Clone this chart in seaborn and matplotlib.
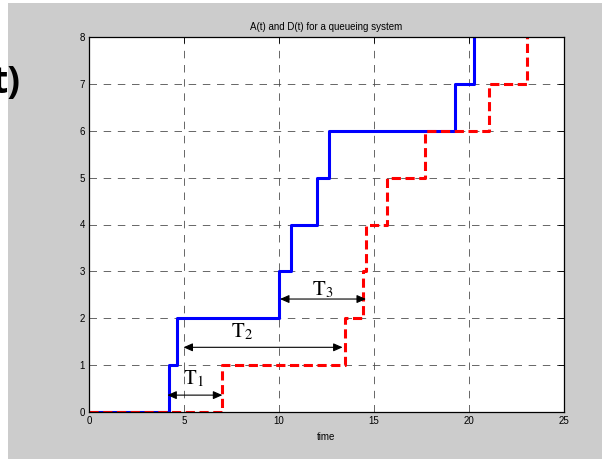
import numpy as np
import pandas as pd
import matplotlib
matplotlib.use("Agg")
import matplotlib.pyplot as plt
from matplotlib.patches import Rectangle
import seaborn as sns

# arrival / departure instants (step-ups of A(t) and D(t))
arrival_times = [0, 4.2, 4.65, 10.0, 10.65, 12.0, 12.65, 19.25, 20.25]
departure_times = [0, 7.0, 13.45, 14.42, 14.58, 15.7, 17.68, 21.07, 23.03]
counts = [0, 1, 2, 3, 4, 5, 6, 7, 8]

# sojourn-time arrows: (start, end, height, label, label x, label y)
t_starts = [4.12, 4.97, 10.05]
t_ends = [7.02, 13.35, 14.58]
t_heights = [0.36, 1.38, 2.41]
t_labels = [r"$\mathrm{T}_1$", r"$\mathrm{T}_2$", r"$\mathrm{T}_3$"]
t_label_x = [5.5, 8.05, 12.3]
t_label_y = [0.72, 1.72, 2.62]

x_ticks = [0, 5, 10, 15, 20, 25]
y_ticks = [0, 1, 2, 3, 4, 5, 6, 7, 8]

sns.set_style("white")
plt.rcParams["font.family"] = ["Liberation Sans", "DejaVu Sans"]
plt.rcParams["mathtext.fontset"] = "stix"
plt.rcParams["text.color"] = "black"
plt.rcParams["xtick.color"] = "black"
plt.rcParams["ytick.color"] = "black"
plt.rcParams["axes.labelcolor"] = "black"

df_a = pd.DataFrame({"time": arrival_times, "n": counts})
df_d = pd.DataFrame({"time": departure_times, "n": counts})

fig = plt.figure(figsize=(6.07, 4.59), dpi=100)
fig.patches.append(Rectangle((8 / 607, 0), 594 / 607, 456 / 459,
                             transform=fig.transFigure, facecolor="#cccccc",
                             edgecolor="none", zorder=-10))
ax = fig.add_axes([89 / 607, 1 - 412 / 459, 475 / 607, 375 / 459])
ax.set_zorder(1)

sns.lineplot(data=df_a, x="time", y="n", drawstyle="steps-post",
             estimator=None, color="#0000ff", linewidth=2.2, ax=ax)
sns.lineplot(data=df_d, x="time", y="n", drawstyle="steps-post",
             estimator=None, color="#ff0000", linewidth=2.2, ax=ax)
ax.lines[-1].set_dashes((3, 1.5))

for x0, x1, h, lab, lx, ly in zip(t_starts, t_ends, t_heights, t_labels,
                                  t_label_x, t_label_y):
    ax.annotate("", xy=(x1, h), xytext=(x0, h),
                arrowprops=dict(arrowstyle="<|-|>,head_length=0.5,head_width=0.22",
                                color="black", lw=0.8,
                                mutation_scale=11, shrinkA=0, shrinkB=0))
    ax.text(lx, ly, lab, fontsize=15, ha="center", va="center")

ax.set_xlim(0, 25)
ax.set_ylim(0, 8)
ax.set_xticks(x_ticks)
ax.set_yticks(y_ticks)
ax.tick_params(direction="in", length=4, width=0.6, labelsize=7,
               top=True, right=True, pad=3)
ax.grid(True, color="0.3", linestyle=(0, (9, 8)), linewidth=0.6)
for s in ax.spines.values():
    s.set_linewidth(0.9)
    s.set_color("black")
ax.set_xlabel("time", fontsize=7, labelpad=4)
ax.set_ylabel("")
ax.set_title("A(t) and D(t) for a queueing system", fontsize=7, pad=5)

fig.text(-9 / 607, 1 - 83 / 459, "t)", fontsize=27, fontweight="bold",
         family=["Open Sans", "DejaVu Sans"], color="black",
         ha="left", va="center", zorder=5)

fig.savefig("out.png", dpi=100)
